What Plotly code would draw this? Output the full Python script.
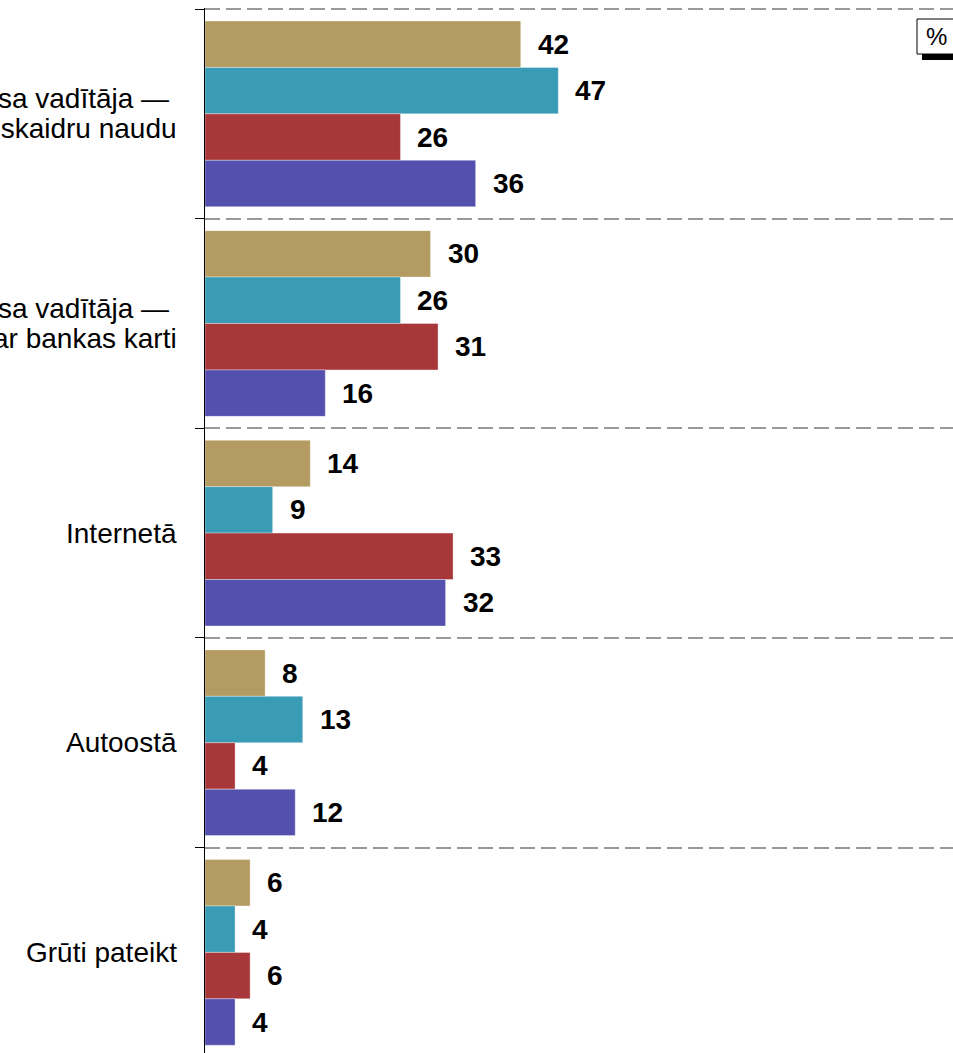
import plotly.graph_objects as go

# ---- data ----
categories = [
    ["Pie autobusa vadītāja —\u00a0", "ar skaidru naudu"],
    ["Pie autobusa vadītāja —\u00a0", "ar bankas karti"],
    ["Internetā"],
    ["Autoostā"],
    ["Grūti pateikt"],
]
series_names = ["Sērija 1", "Sērija 2", "Sērija 3", "Sērija 4"]
values_s1 = [42, 30, 14, 8, 6]
values_s2 = [47, 26, 9, 13, 4]
values_s3 = [26, 31, 33, 4, 6]
values_s4 = [36, 16, 32, 12, 4]
series_values = [values_s1, values_s2, values_s3, values_s4]
unit_label = "%"

# ---- style ----
colors = ["#B39B61", "#3A9BB6", "#A8373A", "#5350AE"]
FONT = "Liberation Sans, Arial, Helvetica, sans-serif"
W, H = 953, 1053
ML, MR, MT, MB = 205, 0, 8, 0
BARGAP = 0.114
n_series = len(series_values)
n_cat = len(categories)
cat_keys = [" ".join(c) for c in categories]

fig = go.Figure()
for name, vals, col in zip(series_names, series_values, colors):
    fig.add_trace(go.Bar(
        y=cat_keys, x=vals, orientation="h", name=name,
        marker=dict(color=col, line=dict(color="rgba(255,255,255,0.35)", width=1)),
        hoverinfo="x+name", showlegend=False,
    ))

annotations = []
w = (1 - BARGAP) / n_series
for j, vals in enumerate(series_values):
    for i, v in enumerate(vals):
        annotations.append(dict(
            x=v, y=i + (j - (n_series - 1) / 2) * w, xref="x", yref="y",
            text=f"<b>{v}</b>", showarrow=False, xanchor="left", yanchor="middle",
            xshift=15, font=dict(family=FONT, size=28, color="black"),
        ))

LINE_H = 30
for i, lines in enumerate(categories):
    n = len(lines)
    for k, line in enumerate(lines):
        annotations.append(dict(
            x=0, y=i, xref="paper", yref="y", text=line, showarrow=False,
            xanchor="right", yanchor="middle", xshift=-26,
            yshift=((n - 1) / 2 - k) * LINE_H,
            font=dict(family=FONT, size=28, color="black"),
        ))

# unit box (pixel geometry converted to paper coords)
pw, ph = W - ML - MR, H - MT - MB
def px(x):
    return (x - ML) / pw
def py(y):
    return 1 - (y - MT) / ph

shapes = [
    dict(type="rect", xref="paper", yref="paper", x0=px(922), x1=px(962), y0=py(60), y1=py(53),
         fillcolor="black", line=dict(width=0), layer="above"),
    dict(type="rect", xref="paper", yref="paper", x0=px(917), x1=px(956), y0=py(54), y1=py(19),
         fillcolor="white", line=dict(color="black", width=1), layer="above"),
]
annotations.append(dict(
    x=px(936), y=py(37), xref="paper", yref="paper", text=unit_label, showarrow=False,
    xanchor="center", yanchor="middle", font=dict(family=FONT, size=24, color="black"),
))

fig.update_layout(
    width=W, height=H, autosize=False,
    margin=dict(l=ML, r=MR, t=MT, b=MB, pad=0),
    barmode="group", bargap=BARGAP, bargroupgap=0,
    plot_bgcolor="white", paper_bgcolor="white",
    font=dict(family=FONT, color="black"),
    xaxis=dict(range=[0, 99.5], visible=False, fixedrange=True),
    yaxis=dict(
        type="category", categoryorder="array", categoryarray=cat_keys,
        range=[n_cat - 0.52, -0.505], tickson="boundaries",
        ticks="outside", ticklen=9, tickcolor="black", tickwidth=1,
        showgrid=True, gridcolor="#999999", gridwidth=2, griddash="15px,6px",
        showline=True, linecolor="black", linewidth=1,
        showticklabels=False, zeroline=False, fixedrange=True,
    ),
    annotations=annotations, shapes=shapes,
)

fig.write_html(
    "out.html",
    config={"displayModeBar": False},
    post_script="document.body.style.margin='0px';document.body.style.overflow='hidden';",
)
